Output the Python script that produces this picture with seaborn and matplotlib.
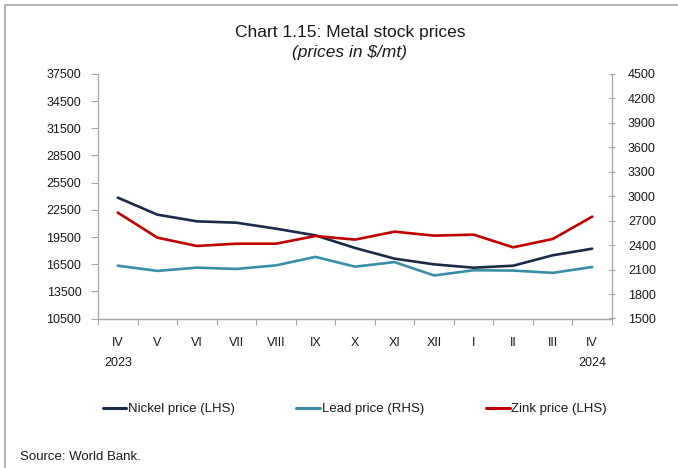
"""plot.py - Chart 1.15: Metal stock prices"""

import matplotlib

matplotlib.use("Agg")
import matplotlib.pyplot as plt
import numpy as np
import pandas as pd
import seaborn as sns
from matplotlib.lines import Line2D
from matplotlib.ticker import FixedLocator

# data (monthly, IV 2023 .. IV 2024)
months = ["IV", "V", "VI", "VII", "VIII", "IX", "X", "XI", "XII", "I", "II", "III", "IV"]
years = ["2023", "", "", "", "", "", "", "", "", "", "", "", "2024"]
nickel = [23850, 21970, 21230, 21080, 20420, 19680, 18290, 17110, 16480, 16110, 16330, 17480, 18210]
zink = [22190, 19430, 18510, 18760, 18760, 19610, 19210, 20090, 19650, 19760, 18360, 19280, 21750]
lead = [2148, 2084, 2124, 2108, 2152, 2256, 2136, 2192, 2028, 2092, 2088, 2060, 2132]

left_ticks = list(range(10500, 37501, 3000))
right_ticks = list(range(1500, 4501, 300))

NICKEL_C = "#1b2a47"
LEAD_C = "#3a8fa8"
ZINK_C = "#c00000"
AXIS_C = "#a6a6a6"
TEXT_C = "#1a1a1a"

sns.set_style("white")
plt.rcParams["font.family"] = ["Liberation Sans", "DejaVu Sans"]

pos = np.arange(len(months))
df = pd.DataFrame({"pos": pos, "nickel": nickel, "zink": zink, "lead": lead})

fig = plt.figure(figsize=(6.78, 4.68), dpi=100)
ax = fig.add_axes([98 / 678, 1 - 318.5 / 468, (612 - 98) / 678, (318.5 - 74) / 468])
ax2 = ax.twinx()

sns.lineplot(data=df, x="pos", y="nickel", ax=ax, color=NICKEL_C, linewidth=1.9)
sns.lineplot(data=df, x="pos", y="zink", ax=ax, color=ZINK_C, linewidth=1.9)
sns.lineplot(data=df, x="pos", y="lead", ax=ax2, color=LEAD_C, linewidth=1.9)

# left axis
ax.set_xlim(-0.5, len(months) - 0.5)
ax.set_ylim(left_ticks[0], left_ticks[-1])
ax.set_yticks(left_ticks)
ax.set_xlabel("")
ax.set_ylabel("")
ax.tick_params(axis="y", direction="out", length=5, width=0.8, color=AXIS_C,
               labelsize=9, labelcolor=TEXT_C, pad=7, left=True)

# right axis
ax2.set_ylim(right_ticks[0], right_ticks[-1])
ax2.set_yticks(right_ticks)
ax2.set_ylabel("")
ax2.tick_params(axis="y", direction="inout", length=5, width=0.8, color=AXIS_C,
                labelsize=9, labelcolor=TEXT_C, pad=9, right=True)

# x axis: labels at month centres, tick marks on the boundaries
ax.set_xticks(pos)
ax.set_xticklabels([f"{m}\n{y}" if y else m for m, y in zip(months, years)])
ax.xaxis.set_minor_locator(FixedLocator(np.arange(-0.5, len(months), 1.0)))
ax.tick_params(axis="x", which="major", length=0, labelsize=9, labelcolor=TEXT_C, pad=13)
ax.tick_params(axis="x", which="minor", direction="out", length=4, width=0.8,
               color=AXIS_C, bottom=True)
for lbl in ax.get_xticklabels():
    lbl.set_linespacing(1.9)

for a in (ax, ax2):
    a.grid(False)
    a.spines["top"].set_visible(False)
    for side in ("left", "right", "bottom"):
        a.spines[side].set_color(AXIS_C)
        a.spines[side].set_linewidth(0.9)
ax.spines["right"].set_visible(False)
ax2.spines["left"].set_visible(False)

# titles
fig.text(350 / 678, 1 - 32 / 468, "Chart 1.15: Metal stock prices", ha="center", va="center",
         fontsize=12.5, color=TEXT_C)
fig.text(350 / 678, 1 - 53 / 468, "(prices in $/mt)", ha="center", va="center",
         fontsize=12.5, style="italic", color=TEXT_C)

# legend
handles = [
    Line2D([], [], color=NICKEL_C, linewidth=2.2),
    Line2D([], [], color=LEAD_C, linewidth=2.2),
    Line2D([], [], color=ZINK_C, linewidth=2.2),
]
labels = ["Nickel price (LHS)", "Lead price (RHS)", "Zink price (LHS)"]
fig.legend(handles, labels, loc="center", bbox_to_anchor=(354.5 / 678, 1 - 409 / 468), ncol=3,
           frameon=False, fontsize=9.5, handlelength=1.8, handletextpad=0.1,
           columnspacing=4.7, labelcolor=TEXT_C)

fig.text(20 / 678, 1 - 457 / 468, "Source: World Bank.", ha="left", va="center",
         fontsize=9.5, color=TEXT_C)

# outer frame (left and top edges visible)
fig.add_artist(Line2D([5 / 678, 5 / 678], [0, 1 - 5 / 468], color="#b5b5b5", linewidth=1.5,
                      transform=fig.transFigure))
fig.add_artist(Line2D([5 / 678, 1], [1 - 5 / 468, 1 - 5 / 468], color="#b5b5b5", linewidth=1.5,
                      transform=fig.transFigure))

fig.savefig("out.png", dpi=100, facecolor="white")
